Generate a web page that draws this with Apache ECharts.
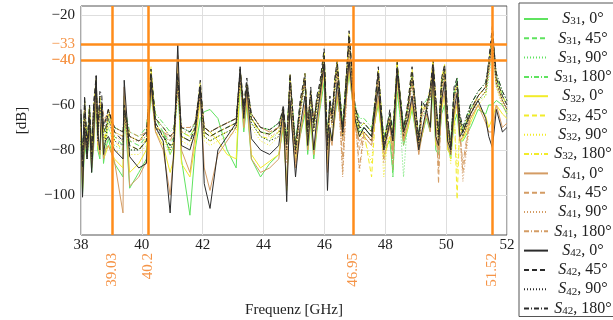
<!DOCTYPE html>
<html><head><meta charset="utf-8">
<script src="https://cdn.jsdelivr.net/npm/echarts@6/dist/echarts.min.js"></script>
<style>html,body{margin:0;padding:0;background:#fff}#c{width:613px;height:320px}</style>
</head><body><div id="c"></div>
<script>
// ---- data (frequency in GHz, values in dB) ----
const freq = [
  38.0,38.05,38.12,38.2,38.28,38.35,38.42,38.5,38.55,38.62,38.68,38.74,38.8,38.9,
  39.1,39.38,39.42,39.6,39.9,40.15,40.3,40.45,40.7,40.93,41.05,41.18,41.3,41.58,41.75,41.92,42.05,42.24,42.5,42.8,43.1,
  43.23,43.35,43.45,43.6,43.9,44.2,44.5,44.65,44.76,44.87,45.05,45.2,45.36,45.45,45.55,45.65,45.75,45.85,45.99,46.1,46.18,46.25,46.34,46.42,46.6,
  46.81,47.0,47.15,47.3,47.55,47.77,47.95,48.15,48.25,48.39,48.6,48.75,48.88,49.1,49.2,49.35,49.48,49.57,49.66,49.75,49.85,49.95,50.05,50.15,50.26,50.36,50.45,50.55,50.8,51.05,51.3,51.4,51.52,51.65,51.85,52.0
];

const s31_0 = [
  -75,-100,-78,-84,-72,-90,-78,-55,-80,-84,-66,-86,-80,-75,
  -86,-92,-60,-97,-90,-84,-55,-70,-72,-82,-78,-50,-84,-109,-80,-66,-63,-62,-66,-80,-88,
  -50,-72,-60,-84,-92,-86,-82,-70,-95,-62,-80,-74,-64,-82,-68,-84,-72,-62,-50,-84,-72,-76,-66,-58,-70,
  -46,-66,-72,-70,-74,-60,-80,-76,-90,-54,-78,-70,-62,-80,-74,-66,-72,-52,-80,-82,-64,-60,-78,-84,-68,-64,-76,-76,-70,-62,-64,-60,-60,-58,-60,-64];
const s31_45 = [
  -70,-85,-60,-78,-62,-80,-64,-50,-72,-58,-58,-72,-75,-66,
  -74,-78,-62,-76,-78,-74,-46,-66,-72,-78,-74,-50,-72,-74,-70,-52,-72,-74,-72,-70,-68,
  -46,-62,-54,-66,-72,-73,-70,-64,-76,-48,-78,-62,-48,-70,-56,-68,-58,-54,-38,-76,-60,-66,-52,-42,-70,
  -32,-62,-70,-68,-72,-46,-76,-66,-92,-42,-72,-60,-46,-76,-62,-60,-56,-42,-62,-74,-52,-44,-70,-78,-56,-48,-66,-72,-62,-56,-52,-44,-32,-48,-56,-60];
const s31_90 = [
  -80,-88,-66,-82,-68,-84,-66,-54,-76,-62,-62,-76,-78,-70,
  -78,-80,-66,-80,-80,-76,-50,-70,-74,-80,-76,-54,-74,-76,-72,-56,-74,-76,-74,-72,-70,
  -50,-66,-56,-68,-74,-76,-72,-66,-78,-52,-80,-64,-52,-72,-58,-70,-62,-56,-42,-78,-62,-68,-56,-46,-72,
  -36,-64,-72,-70,-74,-50,-78,-68,-78,-46,-92,-64,-50,-78,-66,-62,-58,-46,-64,-76,-54,-48,-72,-80,-58,-52,-70,-74,-64,-58,-56,-48,-36,-52,-58,-62];
const s31_180 = [
  -66,-82,-62,-76,-60,-78,-62,-52,-70,-58,-60,-70,-72,-64,
  -70,-72,-60,-72,-74,-70,-48,-64,-68,-72,-70,-52,-70,-72,-68,-54,-70,-72,-70,-68,-66,
  -48,-62,-52,-64,-70,-71,-68,-62,-74,-50,-76,-60,-50,-68,-54,-66,-58,-52,-40,-74,-58,-64,-52,-44,-68,
  -34,-60,-66,-66,-70,-48,-74,-64,-70,-44,-70,-60,-48,-74,-60,-58,-54,-44,-60,-72,-50,-46,-68,-76,-54,-50,-66,-70,-60,-54,-50,-42,-30,-46,-54,-58];

const s32_0 = [
  -72,-98,-74,-82,-70,-86,-76,-52,-78,-82,-65,-84,-82,-78,
  -84,-88,-56,-90,-86,-80,-54,-72,-78,-90,-84,-40,-86,-92,-78,-58,-70,-72,-76,-82,-84,
  -48,-70,-58,-82,-88,-85,-82,-68,-98,-60,-85,-72,-62,-80,-66,-82,-70,-60,-46,-86,-72,-76,-64,-56,-74,
  -44,-68,-74,-72,-76,-58,-84,-74,-80,-50,-76,-70,-60,-79,-74,-64,-70,-48,-78,-79,-62,-56,-80,-82,-66,-60,-76,-75,-68,-60,-65,-70,-66,-60,-64,-66];
const s32_45 = [
  -72,-90,-58,-80,-60,-82,-60,-48,-74,-56,-56,-72,-76,-64,
  -76,-80,-64,-78,-80,-75,-43,-68,-74,-80,-76,-48,-74,-76,-72,-50,-74,-76,-74,-72,-70,
  -44,-60,-50,-66,-74,-75,-72,-62,-80,-46,-82,-60,-46,-72,-54,-70,-58,-52,-36,-80,-58,-68,-50,-40,-74,
  -28,-60,-72,-72,-92,-44,-78,-66,-76,-40,-74,-58,-44,-78,-60,-62,-52,-40,-58,-76,-48,-42,-70,-84,-60,-102,-68,-74,-64,-58,-54,-42,-27,-50,-58,-62];
const s32_90 = [
  -78,-86,-66,-82,-66,-84,-64,-52,-78,-60,-60,-76,-80,-68,
  -80,-82,-68,-82,-82,-78,-48,-72,-76,-82,-78,-52,-76,-78,-74,-54,-76,-78,-76,-74,-72,
  -48,-64,-54,-70,-76,-78,-74,-66,-82,-50,-84,-64,-50,-74,-58,-72,-62,-56,-40,-82,-62,-70,-54,-44,-76,
  -32,-64,-74,-74,-86,-48,-92,-68,-78,-44,-76,-62,-48,-80,-64,-64,-56,-44,-62,-78,-52,-46,-74,-86,-62,-90,-70,-76,-66,-60,-56,-46,-30,-52,-60,-64];
const s32_180 = [
  -68,-84,-60,-78,-62,-80,-62,-50,-72,-58,-58,-70,-74,-62,
  -72,-74,-62,-74,-76,-72,-45,-66,-70,-74,-72,-50,-72,-74,-70,-52,-72,-74,-72,-70,-68,
  -46,-62,-52,-66,-72,-73,-70,-64,-76,-48,-78,-62,-48,-70,-56,-68,-60,-54,-38,-76,-60,-66,-52,-42,-70,
  -30,-62,-70,-68,-72,-46,-76,-64,-72,-42,-72,-60,-46,-76,-62,-60,-54,-42,-60,-74,-50,-44,-68,-78,-56,-50,-66,-72,-62,-56,-52,-44,-28,-48,-56,-60];

const s41_0 = [
  -70,-95,-74,-82,-70,-88,-76,-50,-75,-82,-64,-84,-80,-78,
  -85,-108,-52,-96,-92,-85,-52,-72,-80,-100,-82,-38,-80,-90,-74,-55,-88,-98,-82,-76,-70,
  -46,-70,-56,-84,-90,-88,-84,-66,-96,-60,-88,-74,-60,-80,-64,-82,-70,-60,-44,-90,-74,-78,-66,-54,-76,
  -42,-70,-76,-74,-78,-56,-78,-70,-80,-48,-76,-68,-58,-82,-74,-64,-72,-46,-76,-80,-60,-54,-78,-82,-64,-58,-76,-74,-66,-60,-68,-72,-72,-60,-70,-68];
const s41_45 = [
  -74,-92,-62,-82,-64,-84,-62,-50,-76,-58,-60,-64,-66,-62,
  -70,-72,-66,-72,-74,-72,-48,-70,-72,-74,-72,-52,-70,-70,-68,-52,-70,-72,-70,-68,-66,
  -46,-62,-52,-64,-70,-72,-70,-62,-84,-48,-86,-62,-48,-68,-54,-66,-58,-54,-40,-82,-60,-68,-52,-44,-90,
  -32,-64,-88,-72,-76,-46,-84,-66,-86,-44,-76,-62,-48,-80,-64,-60,-54,-42,-62,-95,-56,-44,-70,-80,-58,-52,-72,-90,-64,-56,-52,-44,-32,-50,-58,-62];
const s41_90 = [
  -80,-88,-66,-84,-68,-86,-66,-54,-78,-62,-62,-68,-70,-66,
  -74,-76,-68,-76,-76,-74,-50,-72,-74,-76,-74,-54,-72,-72,-70,-54,-72,-74,-72,-70,-68,
  -48,-64,-54,-66,-72,-74,-72,-64,-86,-50,-88,-64,-50,-70,-56,-68,-60,-56,-42,-86,-62,-70,-54,-46,-92,
  -36,-66,-90,-74,-78,-48,-86,-68,-89,-46,-78,-64,-50,-82,-66,-62,-56,-44,-64,-90,-58,-46,-72,-82,-60,-54,-74,-94,-66,-58,-54,-46,-36,-52,-60,-64];
const s41_180 = [
  -70,-86,-60,-78,-62,-80,-62,-52,-72,-60,-62,-66,-68,-64,
  -72,-74,-66,-74,-76,-74,-50,-70,-72,-76,-72,-52,-70,-70,-68,-54,-70,-72,-70,-68,-66,
  -48,-62,-54,-64,-70,-72,-70,-62,-80,-50,-82,-62,-50,-68,-56,-66,-60,-56,-42,-80,-62,-68,-54,-46,-84,
  -34,-64,-80,-72,-76,-48,-80,-66,-82,-46,-76,-62,-50,-78,-64,-60,-56,-44,-62,-88,-58,-46,-70,-78,-58,-54,-72,-86,-64,-56,-52,-44,-34,-50,-58,-62];

const s42_0 = [
  -62,-101,-70,-84,-66,-90,-72,-47,-72,-80,-60,-82,-76,-74,
  -80,-84,-49,-83,-88,-86,-50,-70,-76,-108,-80,-33,-78,-80,-72,-52,-95,-106,-80,-74,-68,
  -43,-66,-52,-75,-80,-82,-78,-62,-103,-58,-92,-70,-56,-78,-62,-80,-66,-56,-42,-98,-70,-76,-62,-50,-72,
  -40,-66,-74,-70,-74,-52,-80,-68,-76,-46,-72,-66,-56,-80,-72,-62,-70,-44,-74,-78,-58,-50,-76,-80,-62,-55,-74,-72,-64,-58,-66,-74,-79,-62,-72,-70];
const s42_45 = [
  -64,-88,-56,-80,-60,-82,-58,-47,-74,-54,-55,-70,-72,-62,
  -72,-76,-60,-78,-80,-76,-44,-68,-74,-78,-76,-46,-74,-76,-70,-49,-72,-74,-72,-70,-68,
  -44,-60,-48,-66,-72,-73,-70,-60,-78,-46,-80,-58,-46,-72,-52,-70,-56,-50,-35,-78,-56,-66,-48,-40,-72,
  -27,-60,-70,-70,-74,-43,-78,-62,-74,-41,-72,-58,-43,-76,-58,-62,-52,-40,-56,-74,-48,-42,-64,-80,-52,-48,-66,-72,-62,-56,-52,-40,-25,-48,-56,-60];
const s42_90 = [
  -76,-86,-64,-84,-66,-84,-62,-52,-76,-60,-60,-74,-76,-66,
  -76,-78,-64,-80,-80,-76,-48,-70,-74,-80,-76,-50,-74,-76,-72,-54,-74,-76,-74,-72,-70,
  -48,-64,-52,-68,-74,-76,-74,-64,-80,-50,-82,-62,-50,-74,-56,-72,-60,-54,-40,-80,-60,-68,-52,-44,-74,
  -32,-62,-72,-72,-76,-46,-80,-66,-76,-44,-74,-62,-48,-78,-62,-64,-56,-44,-60,-76,-52,-46,-68,-82,-56,-52,-68,-74,-64,-58,-54,-44,-30,-50,-58,-62];
const s42_180 = [
  -66,-84,-58,-78,-62,-80,-60,-50,-72,-56,-58,-70,-70,-62,
  -70,-72,-62,-74,-76,-72,-46,-66,-70,-74,-72,-48,-70,-72,-68,-52,-70,-72,-70,-68,-66,
  -46,-62,-50,-64,-70,-71,-68,-62,-76,-48,-78,-60,-48,-70,-54,-68,-58,-52,-38,-76,-58,-64,-50,-42,-70,
  -30,-60,-68,-68,-72,-46,-76,-64,-72,-43,-70,-60,-46,-74,-60,-60,-54,-42,-58,-72,-50,-44,-66,-78,-54,-50,-64,-70,-60,-54,-50,-42,-28,-46,-54,-58];

const markerFreqs = [39.03, 40.2, 46.95, 51.52];
const markerLevels = [-33, -40];
const yTickValues = [-100, -80, -60, -40, -20];
const xTickValues = [38, 40, 42, 44, 46, 48, 50, 52];

// ---- styling ----
const SERIF = '"Liberation Serif", "DejaVu Serif", serif';
const ORANGE = '#ff8c1a';
const ORANGE_TXT = '#f59447';
const colors = { '31': '#5fe35f', '32': '#f2ec2a', '41': '#d49c64', '42': '#2b2b2b' };
const dashes = { '0': 'solid', '45': [5, 3], '90': [1, 2], '180': [5, 2, 1, 2] };

const defs = [
  ['31','0',s31_0],['31','45',s31_45],['31','90',s31_90],['31','180',s31_180],
  ['32','0',s32_0],['32','45',s32_45],['32','90',s32_90],['32','180',s32_180],
  ['41','0',s41_0],['41','45',s41_45],['41','90',s41_90],['41','180',s41_180],
  ['42','0',s42_0],['42','45',s42_45],['42','90',s42_90],['42','180',s42_180]
];

const series = defs.map(([p, a, vals]) => ({
  name: 'S' + p + ', ' + a + '°',
  type: 'line',
  symbol: 'none',
  silent: true,
  data: freq.map((f, i) => [f, vals[i]]),
  lineStyle: { color: colors[p], width: 1, type: dashes[a] },
  itemStyle: { color: colors[p] },
  z: 2
}));

series.push({
  name: 'markers', type: 'line', data: [], symbol: 'none', silent: true, z: 10,
  markLine: {
    silent: true, symbol: ['none', 'none'], label: { show: false }, animation: false,
    lineStyle: { color: ORANGE, width: 2.5, type: 'solid' },
    emphasis: { disabled: true },
    data: markerFreqs.map(v => ({ xAxis: v })).concat(markerLevels.map(v => ({ yAxis: v })))
  }
});

const fmtMinus = v => (v < 0 ? '\u2212' + Math.abs(v) : String(v));

const option = {
  animation: false,
  backgroundColor: '#fff',
  grid: {
    left: 81, top: 6, width: 426, height: 229, show: true, borderColor: '#555', borderWidth: 1,
    containLabel: false, outerBoundsMode: 'none'
  },
  legend: {
    orient: 'vertical', left: 519, top: 3,
    padding: [8, 40, 0, 4], itemGap: 3.3, itemWidth: 24, itemHeight: 12,
    borderColor: '#555', borderWidth: 1, backgroundColor: '#fff',
    itemStyle: { opacity: 0, borderWidth: 0 },
    data: series.slice(0, 16).map(s => s.name),
    formatter: name => {
      const m = name.match(/^S(\d+), (.*)$/);
      return '{i|S}{sub|' + m[1] + '}{t|, ' + m[2] + '}';
    },
    textStyle: {
      color: '#222', fontFamily: SERIF, fontSize: 16, width: 60, align: 'left',
      rich: {
        i: { fontFamily: SERIF, fontStyle: 'italic', fontSize: 16, lineHeight: 16, color: '#222', align: 'center' },
        sub: { fontFamily: SERIF, fontSize: 11, lineHeight: 10, verticalAlign: 'bottom', color: '#222', align: 'center' },
        t: { fontFamily: SERIF, fontSize: 16, lineHeight: 16, color: '#222', align: 'center' }
      }
    }
  },
  xAxis: [
    {
      type: 'value', min: 38, max: 52, interval: 2,
      name: 'Frequenz [GHz]', nameLocation: 'middle', nameGap: 68,
      nameTextStyle: { fontFamily: SERIF, fontSize: 15, color: '#222' },
      axisLine: { show: false }, axisTick: { show: false },
      axisLabel: { customValues: xTickValues, fontFamily: SERIF, fontSize: 15, color: '#222', margin: 3 },
      splitLine: { show: true, lineStyle: { color: '#dedede', width: 1 } }
    },
    {
      type: 'value', min: 38, max: 52, position: 'bottom',
      axisLine: { show: false }, axisTick: { show: false }, splitLine: { show: false },
      axisLabel: {
        customValues: markerFreqs, rotate: 90, margin: 18,
        fontFamily: SERIF, fontSize: 15, color: ORANGE_TXT,
        formatter: v => String(v)
      }
    }
  ],
  yAxis: {
    type: 'value', min: -117.8, max: -16,
    name: '[dB]', nameLocation: 'middle', nameGap: 51, nameRotate: 90,
    nameTextStyle: { fontFamily: SERIF, fontSize: 15, color: '#222' },
    axisLine: { show: false },
    axisTick: { show: false, customValues: yTickValues },
    axisLabel: {
      customValues: yTickValues.concat(markerLevels),
      margin: 6, fontFamily: SERIF, fontSize: 15, color: '#222',
      formatter: v => (markerLevels.indexOf(v) >= 0 ? '{o|' + fmtMinus(v) + '}' : fmtMinus(v)),
      rich: { o: { fontFamily: SERIF, fontSize: 15, color: ORANGE_TXT } }
    },
    splitLine: { show: true, lineStyle: { color: '#dedede', width: 1 } }
  },
  series: series
};

const chart = echarts.init(document.getElementById('c'), null, { renderer: 'canvas' });
chart.setOption(option);
</script>
</body></html>
